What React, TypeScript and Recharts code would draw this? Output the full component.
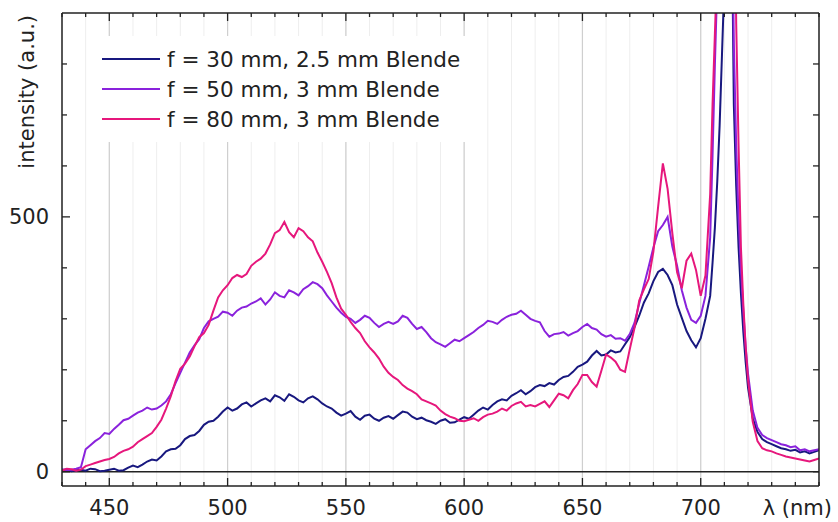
import React from 'react';
import { LineChart, Line, XAxis, YAxis, CartesianGrid, ReferenceLine, Legend } from 'recharts';

// wavelength grid (nm), shared by all three spectra
const wavelengths = [
  430, 432, 434, 436, 438, 440, 442, 444, 446, 448,
  450, 452, 454, 456, 458, 460, 462, 464, 466, 468,
  470, 472, 474, 476, 478, 480, 482, 484, 486, 488,
  490, 492, 494, 496, 498, 500, 502, 504, 506, 508,
  510, 512, 514, 516, 518, 520, 522, 524, 526, 528,
  530, 532, 534, 536, 538, 540, 542, 544, 546, 548,
  550, 552, 554, 556, 558, 560, 562, 564, 566, 568,
  570, 572, 574, 576, 578, 580, 582, 584, 586, 588,
  590, 592, 594, 596, 598, 600, 602, 604, 606, 608,
  610, 612, 614, 616, 618, 620, 622, 624, 626, 628,
  630, 632, 634, 636, 638, 640, 642, 644, 646, 648,
  650, 652, 654, 656, 658, 660, 662, 664, 666, 668,
  670, 672, 674, 676, 678, 680, 682, 684, 686, 688,
  690, 692, 694, 696, 698, 700, 702, 704,
  705, 706, 707, 708, 709, 710, 711, 712, 713, 714, 715, 716, 717, 718, 719, 720,
  722, 724, 726,
  728, 730, 732, 734, 736, 738, 740, 742, 744, 746, 748, 750,
];

// f = 30 mm, 2.5 mm Blende
const f30 = [
  3, 5, 1, 3, 4, 2, 6, 5, 1, 2,
  4, 6, 2, 3, 8, 12, 9, 14, 20, 24,
  22, 30, 40, 44, 45, 52, 64, 70, 72, 80,
  92, 98, 100, 108, 118, 126, 120, 124, 132, 136,
  128, 134, 140, 144, 138, 150, 146, 139, 152, 147,
  140, 136, 144, 148, 142, 134, 128, 124, 116, 110,
  114, 119, 108, 102, 110, 112, 104, 100, 106, 109,
  104, 111, 118, 116, 108, 103, 106, 101, 98, 94,
  100, 103, 96, 97, 102, 107, 104, 112, 120, 126,
  122, 131, 138, 142, 140, 149, 154, 160, 152, 158,
  166, 170, 168, 174, 171, 180, 186, 188, 196, 206,
  210, 216, 228, 237, 228, 230, 238, 234, 236, 250,
  264, 284, 306, 332, 350, 374, 392, 398, 386, 366,
  328, 302, 276, 258, 244, 262, 300, 345,
  410, 480, 570, 680, 820, 960, 1150, 1400, 1150, 720, 560, 440, 350, 275, 215, 165,
  105, 78, 64,
  58, 54, 50, 46, 44, 41, 43, 38, 40, 36, 39, 42,
];

// f = 50 mm, 3 mm Blende
const f50 = [
  5, 3, 4, 6, 9, 44, 52, 60, 66, 76,
  74, 84, 92, 101, 104, 110, 116, 120, 126, 122,
  124, 130, 138, 152, 174, 194, 214, 234, 248, 260,
  282, 295, 300, 304, 314, 312, 306, 316, 322, 324,
  330, 334, 340, 328, 338, 352, 345, 342, 356, 352,
  346, 358, 364, 372, 368, 360, 346, 334, 322, 312,
  304, 300, 292, 298, 306, 302, 292, 284, 290, 294,
  290, 295, 306, 302, 290, 280, 284, 274, 262, 254,
  250, 245, 252, 259, 256, 262, 268, 274, 282, 288,
  296, 294, 290, 298, 304, 308, 310, 316, 308, 300,
  296, 293, 276, 265, 270, 271, 274, 267, 272, 276,
  284, 290, 282, 279, 270, 265, 268, 261, 262, 257,
  270, 292, 330, 366, 402, 440, 472, 484, 500, 442,
  404, 356, 322, 298, 292, 306, 345, 460,
  620, 800, 960, 1150, 1300, 1500, 1700, 1800, 1200, 840, 640, 500, 400, 315, 245, 192,
  120, 86, 72,
  66, 62, 58, 54, 52, 48, 50, 42, 44, 40, 42, 44,
];

// f = 80 mm, 3 mm Blende
const f80 = [
  2, 6, 5, 2, 4, 11, 14, 17, 20, 23,
  25, 29, 36, 41, 44, 49, 58, 64, 70, 76,
  88, 102, 124, 148, 178, 202, 212, 226, 246, 264,
  272, 288, 316, 342, 356, 366, 380, 386, 382, 388,
  404, 412, 418, 428, 446, 468, 474, 490, 470, 460,
  478, 472, 460, 452, 430, 412, 392, 370, 342, 320,
  308, 294, 282, 272, 256, 244, 234, 222, 206, 194,
  186, 180, 170, 163, 158, 152, 142, 138, 134, 130,
  120, 113, 108, 105, 100, 99, 102, 105, 100, 107,
  112, 114, 118, 124, 120, 129, 134, 137, 128, 131,
  128, 133, 138, 127, 140, 153, 150, 144, 160, 172,
  190, 190, 176, 167, 198, 230, 224, 216, 200, 196,
  240, 282, 336, 358, 378, 432, 520, 605, 555, 468,
  392, 360, 414, 428, 396, 345, 385, 545,
  720, 860, 1000, 1200, 1400, 1600, 1800, 1900, 1700, 1250, 880, 640, 440, 330, 245, 180,
  98, 60, 46,
  42, 40, 36, 33, 30, 28, 26, 24, 22, 20, 23, 26,
];

const xTicks = [430, 440, 450, 460, 470, 480, 490, 500, 510, 520, 530, 540, 550, 560, 570, 580, 590, 600, 610, 620, 630, 640, 650, 660, 670, 680, 690, 700, 710, 720, 730, 740, 750];
const xLabels = [450, 500, 550, 600, 650, 700];
const yTicks = [0, 100, 200, 300, 400, 500, 600, 700, 800];
const yLabels = [0, 500];

const SERIES = [
  { key: 'f30', name: 'f = 30 mm, 2.5 mm Blende', color: '#18187f' },
  { key: 'f50', name: 'f = 50 mm, 3 mm Blende', color: '#8a22dc' },
  { key: 'f80', name: 'f = 80 mm, 3 mm Blende', color: '#e6177c' },
];

const data = wavelengths.map((nm, i) => ({ nm, f30: f30[i], f50: f50[i], f80: f80[i] }));

const FONT = '"DejaVu Sans", sans-serif';
const INK = '#222';

const BottomTick = ({ x, y, payload }: any) => {
  const major = xLabels.includes(payload.value);
  return (
    <g>
      <line x1={x} y1={y} x2={x} y2={y - (major ? 8 : 4)} stroke={INK} strokeWidth={1.3} />
      {major && (
        <text x={x} y={y + 29} textAnchor="middle" fontSize={21} fontFamily={FONT} fill={INK}>
          {payload.value}
        </text>
      )}
    </g>
  );
};

const TopTick = ({ x, y, payload }: any) => {
  const major = xLabels.includes(payload.value);
  return <line x1={x} y1={y} x2={x} y2={y + (major ? 8 : 4)} stroke={INK} strokeWidth={1.3} />;
};

const LeftTick = ({ x, y, payload }: any) => {
  const major = yLabels.includes(payload.value);
  return (
    <g>
      <line x1={x} y1={y} x2={x + (major ? 8 : 5)} y2={y} stroke={INK} strokeWidth={1.3} />
      {major && (
        <text x={x - 13} y={y + 7.5} textAnchor="end" fontSize={21} fontFamily={FONT} fill={INK}>
          {payload.value}
        </text>
      )}
    </g>
  );
};

const RightTick = ({ x, y }: any) => (
  <line x1={x} y1={y} x2={x - 6} y2={y} stroke={INK} strokeWidth={1.3} />
);

const LegendBox = () => (
  <div style={{ background: '#fff', padding: '8px 10px 8px 6px', fontFamily: FONT, fontSize: 21.5, color: INK }}>
    {SERIES.map((s) => (
      <div key={s.key} style={{ display: 'flex', alignItems: 'center', height: 30 }}>
        <span style={{ display: 'inline-block', width: 58, height: 2, background: s.color, marginRight: 7 }} />
        <span style={{ whiteSpace: 'nowrap' }}>{s.name}</span>
      </div>
    ))}
  </div>
);

export default function App() {
  const axisLine = { stroke: INK, strokeWidth: 1.5 };
  return (
    <div style={{ position: 'absolute', left: 0, top: 0, width: 838, height: 522, background: '#fff' }}>
      <LineChart width={838} height={522} data={data} margin={{ top: 0, right: 0, bottom: 0, left: 0 }}>
        <CartesianGrid horizontal={false} stroke="#eeeeee" strokeWidth={1} />
        {xLabels.map((v) => (
          <ReferenceLine key={v} x={v} stroke="#cfcfcf" strokeWidth={1.2} />
        ))}
        <ReferenceLine y={0} stroke={INK} strokeWidth={1.5} />
        <XAxis
          dataKey="nm"
          type="number"
          domain={[430, 750]}
          ticks={xTicks}
          interval={0}
          tick={BottomTick}
          tickLine={false}
          tickSize={0}
          tickMargin={0}
          height={36}
          axisLine={axisLine}
          allowDataOverflow
          label={({ viewBox }: any) => (
            <text x={viewBox.x + viewBox.width + 13} y={viewBox.y + 29} textAnchor="end" fontSize={21} fontFamily={FONT} fill={INK}>
              λ (nm)
            </text>
          )}
        />
        <XAxis
          xAxisId="top"
          orientation="top"
          dataKey="nm"
          type="number"
          domain={[430, 750]}
          ticks={xTicks}
          interval={0}
          tick={TopTick}
          tickLine={false}
          tickSize={0}
          tickMargin={0}
          height={13}
          axisLine={axisLine}
          allowDataOverflow
        />
        <YAxis
          type="number"
          domain={[-28, 900]}
          ticks={yTicks}
          interval={0}
          tick={LeftTick}
          tickLine={false}
          tickSize={0}
          tickMargin={0}
          width={62}
          axisLine={axisLine}
          allowDataOverflow
          label={({ viewBox }: any) => (
            <text
              transform={`translate(${viewBox.x + 34}, ${viewBox.y + 2}) rotate(-90)`}
              textAnchor="end"
              fontSize={21}
              fontFamily={FONT}
              fill={INK}
            >
              intensity (a.u.)
            </text>
          )}
        />
        <YAxis
          yAxisId="right"
          orientation="right"
          type="number"
          domain={[-28, 900]}
          ticks={yTicks}
          interval={0}
          tick={RightTick}
          tickLine={false}
          tickSize={0}
          tickMargin={0}
          width={19}
          axisLine={axisLine}
          allowDataOverflow
        />
        <Legend
          layout="vertical"
          align="center"
          verticalAlign="middle"
          content={LegendBox}
          wrapperStyle={{ left: 96, top: 36, width: 380 }}
        />
        {SERIES.map((s) => (
          <Line
            key={s.key}
            dataKey={s.key}
            name={s.name}
            stroke={s.color}
            strokeWidth={2}
            dot={false}
            type="linear"
            isAnimationActive={false}
          />
        ))}
      </LineChart>
    </div>
  );
}
